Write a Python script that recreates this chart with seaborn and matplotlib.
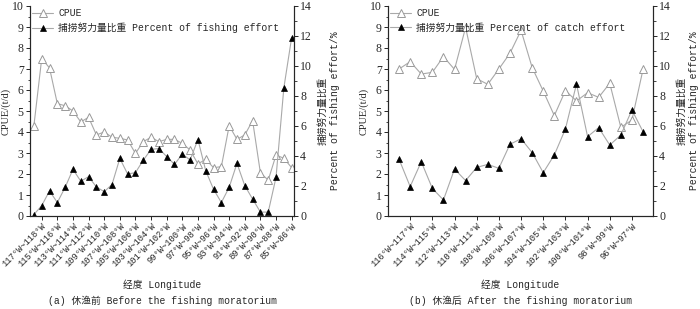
import matplotlib
matplotlib.use("Agg")
import matplotlib.pyplot as plt
from matplotlib.ticker import MultipleLocator
import seaborn as sns

# Data

# (a) before the moratorium: 118°W~119°W ... 85°W~86°W, one point per degree
left_ticklabels = ["117°W~118°W", "115°W~116°W", "113°W~114°W", "111°W~112°W",
                   "109°W~110°W", "107°W~108°W", "105°W~106°W", "103°W~104°W",
                   "101°W~102°W", "99°W~100°W", "97°W~98°W", "95°W~96°W",
                   "93°W~94°W", "91°W~92°W", "89°W~90°W", "87°W~88°W", "85°W~86°W"]
left_cpue = [4.3, 7.5, 7.05, 5.35, 5.25, 5.0, 4.48, 4.7, 3.86, 4.0, 3.75, 3.7,
             3.62, 2.98, 3.54, 3.75, 3.54, 3.65, 3.65, 3.46, 3.14, 2.48, 2.7,
             2.3, 2.35, 4.3, 3.65, 3.86, 4.54, 2.05, 1.71, 2.9, 2.75, 2.3]
left_effort = [0.1, 0.69, 1.67, 0.9, 1.91, 3.11, 2.32, 2.62, 1.94, 1.62, 2.1,
               3.84, 2.8, 2.89, 3.72, 4.44, 4.5, 3.96, 3.44, 4.13, 3.73, 5.1,
               3.02, 1.78, 0.9, 1.91, 3.51, 2.02, 1.13, 0.26, 0.26, 2.58, 8.54,
               11.9]

# (b) after the moratorium: 117°W~118°W ... 95°W~96°W
right_ticklabels = ["116°W~117°W", "114°W~115°W", "112°W~113°W", "110°W~111°W",
                    "108°W~109°W", "106°W~107°W", "104°W~105°W", "102°W~103°W",
                    "100°W~101°W", "98°W~99°W", "96°W~97°W"]
right_cpue = [7.0, 7.35, 6.76, 6.84, 7.59, 6.98, 8.98, 6.54, 6.27, 7.0, 7.75,
              8.84, 7.07, 5.95, 4.78, 5.97, 5.48, 5.87, 5.65, 6.32, 4.22, 4.57,
              6.98]
right_effort = [3.78, 1.96, 3.62, 1.84, 1.07, 3.13, 2.36, 3.24, 3.44, 3.18,
                4.78, 5.15, 4.23, 2.89, 4.07, 5.8, 8.8, 5.29, 5.89, 4.73, 5.4,
                7.07, 5.62]

sns.set_style("ticks")
plt.rcParams['font.family'] = ['Liberation Serif', 'Noto Sans CJK SC']
mixed = ['Liberation Mono', 'Noto Sans CJK SC']

LINE = '#a9a9a9'


def draw_panel(fig, rect, cpue, effort, ticklabels, xlim, effort_name,
               xlabel, caption):
    ax = fig.add_axes(rect)
    ax2 = ax.twinx()
    idx = list(range(len(cpue)))

    sns.lineplot(x=idx, y=cpue, ax=ax, color=LINE, lw=0.8, marker='^',
                 markersize=5.5, markerfacecolor='white',
                 markeredgecolor='#999999', markeredgewidth=0.7)
    sns.lineplot(x=idx, y=effort, ax=ax2, color=LINE, lw=0.8, marker='^',
                 markersize=5, markerfacecolor='black',
                 markeredgecolor='black', markeredgewidth=0.5)

    ax.set_ylim(0, 10)
    ax2.set_ylim(0, 14)
    ax.set_xlim(*xlim)
    ax.yaxis.set_major_locator(MultipleLocator(1))
    ax.yaxis.set_minor_locator(MultipleLocator(0.5))
    ax2.yaxis.set_major_locator(MultipleLocator(2))
    ax2.yaxis.set_minor_locator(MultipleLocator(1))

    ax.set_xticks(idx[1::2])
    ax.set_xticklabels(ticklabels, rotation=45, ha='right',
                       rotation_mode='anchor', family=mixed, fontsize=6.3)

    for a in (ax, ax2):
        a.spines['top'].set_visible(False)
        for s in a.spines.values():
            s.set_linewidth(0.8)
        a.tick_params(which='major', length=3, width=0.7, labelsize=8.5, pad=1.5)
        a.tick_params(which='minor', length=1.8, width=0.6)
    ax.tick_params(axis='x', labelsize=6.3, pad=1)

    ax.set_ylabel('CPUE/(t/d)', fontsize=7.5, labelpad=1)
    ax2.set_ylabel('捕捞努力量比重\n' + 'Percent of fishing effort/%',
                   family=mixed, fontsize=7, labelpad=4, linespacing=1.35)
    ax.set_xlabel('')

    h1 = ax.get_lines()[0]
    h2 = ax2.get_lines()[0]
    ax2.legend([h1, h2], ['CPUE', '捕捞努力量比重 ' + effort_name],
               loc='upper left', frameon=False,
               prop={'family': mixed, 'size': 7},
               handlelength=2.2, borderaxespad=0.1, borderpad=0.1,
               labelspacing=0.5, handletextpad=0.5)

    cx = rect[0] + rect[2] / 2
    fig.text(cx, 1 - 285 / 309, xlabel, ha='center', va='center',
             family=mixed, fontsize=7)
    fig.text(cx, 1 - 301 / 309, caption, ha='center', va='center',
             family=mixed, fontsize=7)
    return ax, ax2


fig = plt.figure(figsize=(7.0, 3.09), dpi=100)

draw_panel(fig, [30 / 700, 1 - 216 / 309, 264 / 700, 210 / 309],
           left_cpue, left_effort, left_ticklabels, (-0.5, 33.3),
           'Percent of fishing effort', '经度 Longitude',
           '(a) 休渔前 Before the fishing moratorium')
draw_panel(fig, [388 / 700, 1 - 216 / 309, 265 / 700, 210 / 309],
           right_cpue, right_effort, right_ticklabels, (-1.0, 22.9),
           'Percent of catch effort', '经度 Longitude',
           '(b) 休渔后 After the fishing moratorium')

plt.savefig('out.png', dpi=100)
